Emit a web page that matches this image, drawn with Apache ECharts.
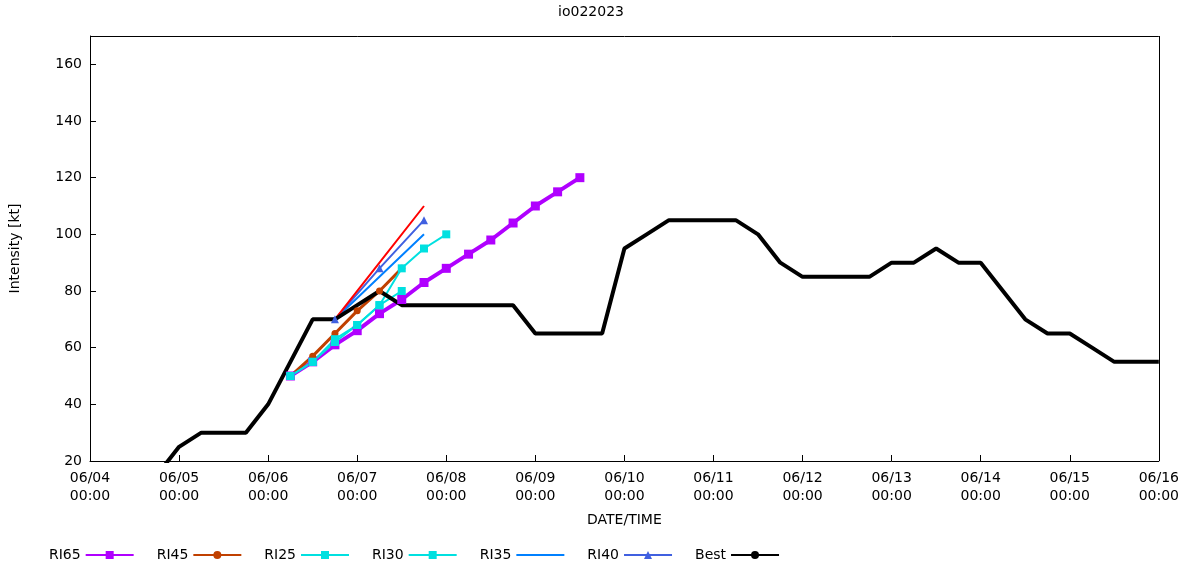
<!DOCTYPE html>
<html>
<head>
<meta charset="UTF-8">
<script src="https://cdn.jsdelivr.net/npm/echarts@6/dist/echarts.min.js"></script>
<style>body{margin:0;background:#fff}</style>
</head>
<body>
<div id="chart" style="width:1182px;height:567px;"></div>
<script>
// times as "MM/DD HH"
var xTicks = ['06/04', '06/05', '06/06', '06/07', '06/08', '06/09', '06/10', '06/11', '06/12', '06/13', '06/14', '06/15', '06/16'];

var bestTimes = ['06/04 18', '06/05 00', '06/05 06', '06/05 12', '06/05 18', '06/06 00', '06/06 06', '06/06 12', '06/06 18',
    '06/07 00', '06/07 06', '06/07 12', '06/07 18', '06/08 00', '06/08 06', '06/08 12', '06/08 18', '06/09 00', '06/09 06',
    '06/09 12', '06/09 18', '06/10 00', '06/10 06', '06/10 12', '06/10 18', '06/11 00', '06/11 06', '06/11 12', '06/11 18',
    '06/12 00', '06/12 06', '06/12 12', '06/12 18', '06/13 00', '06/13 06', '06/13 12', '06/13 18', '06/14 00', '06/14 06',
    '06/14 12', '06/14 18', '06/15 00', '06/15 06', '06/15 12', '06/15 18', '06/16 00'];
var bestVals = [15, 25, 30, 30, 30, 40, 55, 70, 70, 75, 80, 75, 75, 75, 75, 75, 75, 65, 65, 65, 65, 95, 100, 105, 105, 105,
    105, 100, 90, 85, 85, 85, 85, 90, 90, 95, 90, 90, 80, 70, 65, 65, 60, 55, 55, 55];

var ri65Times = ['06/06 06', '06/06 12', '06/06 18', '06/07 00', '06/07 06', '06/07 12', '06/07 18', '06/08 00', '06/08 06',
    '06/08 12', '06/08 18', '06/09 00', '06/09 06', '06/09 12'];
var ri65Vals = [50, 55, 61, 66, 72, 77, 83, 88, 93, 98, 104, 110, 115, 120];

var ri45Times = ['06/06 06', '06/06 12', '06/06 18', '06/07 00', '06/07 06', '06/07 12'];
var ri45Vals = [50, 57, 65, 73, 80, 88];

var ri25Times = ['06/06 06', '06/06 12', '06/06 18', '06/07 00', '06/07 06', '06/07 12', '06/07 18', '06/08 00'];
var ri25Vals = [50, 55, 62, 68, 75, 88, 95, 100];

var ri30Times = ['06/06 06', '06/06 12', '06/06 18', '06/07 00', '06/07 06', '06/07 12'];
var ri30Vals = [50, 55, 63, 68, 75, 80];

var shortTimes = ['06/06 18', '06/07 06', '06/07 18'];
var ri35Vals = [70, 85, 100];
var ri40Vals = [70, 88, 105];
var ri65rVals = [70, 90, 110];

function hours(s) {
    var p = s.split(' ');
    var d = parseInt(p[0].split('/')[1], 10);
    return (d - 4) * 24 + parseInt(p[1], 10);
}
function pts(t, v) {
    var out = [];
    for (var i = 0; i < t.length; i++) out.push([hours(t[i]), v[i]]);
    return out;
}
function line(name, t, v, color, width, symbol, size) {
    return {
        name: name, type: 'line', data: pts(t, v), symbol: symbol, symbolSize: size,
        lineStyle: {color: color, width: width}, itemStyle: {color: color}, animation: false
    };
}

var font = 'DejaVu Sans';
var chart = echarts.init(document.getElementById('chart'));
chart.setOption({
    textStyle: {fontFamily: font},
    title: {text: 'io022023', left: 'center', top: 0, textStyle: {fontFamily: font, fontSize: 14, fontWeight: 'normal', color: '#000'}},
    grid: {left: 84, right: 22, top: 36, bottom: 106},
    legend: {
        bottom: 0, left: 44, align: 'right', itemGap: 22, itemWidth: 48, itemHeight: 10,
        textStyle: {fontFamily: font, fontSize: 14, color: '#000'},
        data: ['RI65', 'RI45', 'RI25', 'RI30', 'RI35', 'RI40', 'Best']
    },
    xAxis: {
        type: 'value', min: 0, max: 288, interval: 24,
        name: 'DATE/TIME', nameLocation: 'middle', nameGap: 52,
        nameTextStyle: {fontFamily: font, fontSize: 14, color: '#000'},
        axisLine: {lineStyle: {color: '#000'}},
        axisTick: {inside: true, length: 6, lineStyle: {color: '#000'}},
        axisLabel: {color: '#000', fontSize: 14, lineHeight: 18, formatter: function (v) {
            return xTicks[v / 24] + '\n00:00';
        }},
        splitLine: {show: false}
    },
    yAxis: {
        type: 'value', min: 20, max: 170, interval: 20,
        name: 'Intensity [kt]', nameLocation: 'middle', nameGap: 68,
        nameTextStyle: {fontFamily: font, fontSize: 14, color: '#000'},
        axisLine: {show: true, lineStyle: {color: '#000'}},
        axisTick: {inside: true, length: 6, lineStyle: {color: '#000'}},
        axisLabel: {color: '#000', fontSize: 14, formatter: function (v) { return v > 160 ? '' : v; }},
        splitLine: {show: false}
    },
    series: [
        {type: 'line', data: [], markLine: {silent: true, symbol: 'none', label: {show: false},
            lineStyle: {color: '#000', type: 'solid', width: 1},
            data: [{yAxis: 170}, {xAxis: 288}]}},
        line('RI65', ri65Times, ri65Vals, '#b000ff', 4, 'rect', 9),
        line('RI45', ri45Times, ri45Vals, '#c04000', 3, 'circle', 7),
        line('RI25', ri25Times, ri25Vals, '#00e0e0', 2, 'rect', 8),
        line('RI30', ri30Times, ri30Vals, '#00e0e0', 2, 'rect', 8),
        line('RI35', shortTimes, ri35Vals, '#0080ff', 2, 'path://M0,5L10,5M5,0L5,10M1.5,1.5L8.5,8.5M8.5,1.5L1.5,8.5', 8),
        line('RI40', shortTimes, ri40Vals, '#4060e0', 2, 'triangle', 8),
        line('RI40', shortTimes, ri65rVals, '#ff0000', 2, 'path://M0,5L10,5M5,0L5,10', 9),
        line('Best', bestTimes, bestVals, '#000', 4, 'none', 0)
    ]
});
</script>
</body>
</html>
